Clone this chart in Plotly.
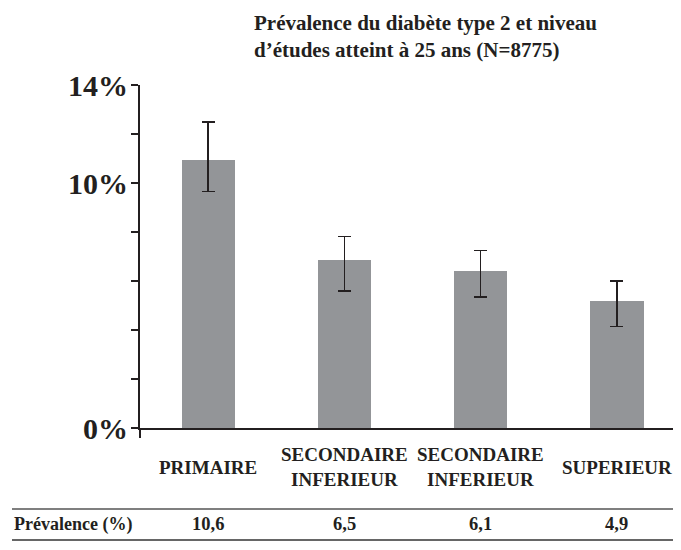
import plotly.graph_objects as go

# Data
categories = ["PRIMAIRE", "SECONDAIRE<br>INFERIEUR", "SECONDAIRE<br>INFERIEUR", "SUPERIEUR"]
bar_values = [10.94, 6.86, 6.41, 5.18]
err_plus = [1.56, 0.95, 0.83, 0.83]
err_minus = [1.28, 1.26, 1.07, 1.04]
table_label = "Prévalence (%)"
table_values = ["10,6", "6,5", "6,1", "4,9"]
y_tickvals = [0, 2, 4, 6, 8, 10, 12, 14]
y_ticktext = ["0%", "", "", "", "", "10%", "", "14%"]
title_lines = ["Prévalence du diabète type 2 et niveau", "d’études atteint à 25 ans (N=8775)"]

FONT = "Liberation Serif, Tinos, 'Times New Roman', 'DejaVu Serif', serif"
TXT = "#231f20"
OFF = 8  # page body offset
W, H = 681 - OFF, 550 - 2 * OFF
L, R, T = 140 - OFF, 0, 85 - OFF
B = H - (428 - OFF)
ph = H - T - B
pw = W - L - R

def py(pix):
    return (H - B - (pix - OFF)) / ph

def px(pix):
    return ((pix - OFF) - L) / pw

xs = list(range(len(categories)))

fig = go.Figure()
fig.add_trace(go.Bar(
    x=xs, y=bar_values, width=0.39,
    marker=dict(color="#939598", line=dict(width=0)),
    error_y=dict(type="data", symmetric=False, array=err_plus, arrayminus=err_minus,
                 color=TXT, thickness=1.6, width=6.5),
    hoverinfo="skip",
))

def f(size):
    return dict(family=FONT, size=size, color=TXT, weight="bold")

annotations = []
for i, c in enumerate(categories):
    annotations.append(dict(x=i, y=py(467), xref="x", yref="paper", text=c,
                            showarrow=False, xanchor="center", yanchor="middle",
                            font=f(19), align="center"))
    annotations.append(dict(x=i, y=py(524), xref="x", yref="paper", text=table_values[i],
                            showarrow=False, xanchor="center", yanchor="middle", font=f(18.5)))
annotations.append(dict(x=px(12), y=py(524), xref="paper", yref="paper", text=table_label,
                        showarrow=False, xanchor="left", yanchor="middle", font=f(18)))
for line, ypix in zip(title_lines, [23, 50]):
    annotations.append(dict(x=px(252), y=py(ypix), xref="paper", yref="paper", text=line,
                            showarrow=False, xanchor="left", yanchor="middle", font=f(21)))

shapes = [
    dict(type="line", xref="paper", yref="paper", x0=px(12), x1=1, y0=py(509), y1=py(509),
         line=dict(color="#555555", width=1.5)),
    dict(type="line", xref="paper", yref="paper", x0=px(12), x1=1, y0=py(540), y1=py(540),
         line=dict(color="#333333", width=1.5)),
    dict(type="line", xref="paper", yref="paper", x0=0, x1=0, y0=0, y1=py(438),
         line=dict(color=TXT, width=2)),
]

fig.update_layout(
    width=W, height=H,
    margin=dict(l=L, r=R, t=T, b=B),
    plot_bgcolor="white", paper_bgcolor="white",
    showlegend=False,
    bargap=0,
    xaxis=dict(range=[-0.5, 3.47], showticklabels=False, ticks="", showgrid=False, zeroline=False,
               showline=True, linecolor=TXT, linewidth=2, fixedrange=True),
    yaxis=dict(range=[0, 14], tickvals=y_tickvals, ticktext=y_ticktext, ticks="outside",
               ticklen=7, tickwidth=2, tickcolor=TXT, showline=True, linecolor=TXT, linewidth=2,
               showgrid=False, zeroline=False,
               tickfont=f(30), ticklabelstandoff=-3),
    annotations=annotations,
    shapes=shapes,
    font=dict(family=FONT, color=TXT),
)
fig.write_html("out.html")
